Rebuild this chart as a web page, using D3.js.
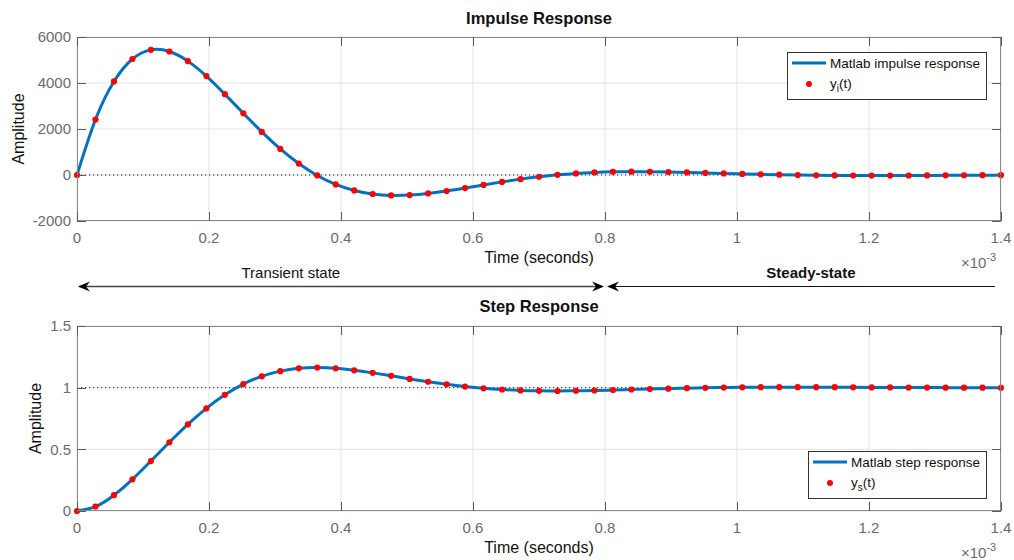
<!DOCTYPE html>
<html>
<head>
<meta charset="utf-8">
<script src="https://cdn.jsdelivr.net/npm/d3@7"></script>
<style>
  html, body { margin: 0; padding: 0; background: #fff; }
  svg { display: block; font-family: "Liberation Sans", Arial, Helvetica, sans-serif; }
</style>
</head>
<body>
<svg id="chart" width="1014" height="560"></svg>
<script>
// Sample instants (milliseconds, axis shows x10^-3 s)
const timeMs = [0, 0.028, 0.056, 0.084, 0.112, 0.14, 0.168, 0.196, 0.224, 0.252,
  0.28, 0.308, 0.336, 0.364, 0.392, 0.42, 0.448, 0.476, 0.504, 0.532,
  0.56, 0.588, 0.616, 0.644, 0.672, 0.7, 0.728, 0.756, 0.784, 0.812,
  0.84, 0.868, 0.896, 0.924, 0.952, 0.98, 1.008, 1.036, 1.064, 1.092,
  1.12, 1.148, 1.176, 1.204, 1.232, 1.26, 1.288, 1.316, 1.344, 1.372, 1.4];

// Impulse response y_i(t)
const impulseVals = [0, 2410, 4068, 5044, 5441, 5370, 4951, 4299, 3514, 2682,
  1872, 1132, 497, -20, -408, -671, -827, -888, -873, -803,
  -696, -567, -431, -299, -180, -77, 7, 69, 111, 136,
  145, 142, 130, 113, 91, 69, 48, 28, 12, -2,
  -12, -18, -22, -24, -23, -21, -18, -15, -11, -8, -4];

// Step response y_s(t)
const stepVals = [0, 0.036, 0.128, 0.257, 0.405, 0.557, 0.702, 0.832, 0.942, 1.029,
  1.092, 1.134, 1.157, 1.163, 1.157, 1.141, 1.120, 1.096, 1.071, 1.048,
  1.027, 1.009, 0.995, 0.985, 0.978, 0.974, 0.973, 0.975, 0.977, 0.981,
  0.985, 0.989, 0.992, 0.996, 0.999, 1.001, 1.003, 1.004, 1.004, 1.004,
  1.004, 1.004, 1.003, 1.002, 1.002, 1.001, 1.001, 1.000, 1.000, 1.000, 0.999];

const xTicks = [0, 0.2, 0.4, 0.6, 0.8, 1, 1.2, 1.4];
const impulseTicks = [-2000, 0, 2000, 4000, 6000];
const stepTicks = [0, 0.5, 1, 1.5];

const svg = d3.select("#chart");
const left = 77, right = 1001;
const x = d3.scaleLinear().domain([0, 1.4]).range([left, right]);

const BLUE = "#0072BD", RED = "#FF0000";
const TICK_GRAY = "#6b6b6b", BOX_GRAY = "#8a8a8a";

function panel(cfg) {
  const y = d3.scaleLinear().domain(cfg.domain).range([cfg.bottom, cfg.top]);
  const g = svg.append("g");
  const pts = timeMs.map((t, i) => ({ t, v: cfg.values[i] }));

  // grid
  g.append("g").selectAll("line").data(xTicks).join("line")
    .attr("x1", d => x(d)).attr("x2", d => x(d))
    .attr("y1", cfg.top).attr("y2", cfg.bottom)
    .attr("stroke", "#e3e3e3").attr("stroke-width", 1);
  g.append("g").selectAll("line").data(cfg.ticks).join("line")
    .attr("x1", left).attr("x2", right)
    .attr("y1", d => y(d)).attr("y2", d => y(d))
    .attr("stroke", "#e3e3e3").attr("stroke-width", 1);

  // reference level
  g.append("line")
    .attr("x1", left).attr("x2", right)
    .attr("y1", y(cfg.refLevel)).attr("y2", y(cfg.refLevel))
    .attr("stroke", "#222").attr("stroke-width", 1)
    .attr("stroke-dasharray", "1.2,2.8");

  // response curve
  const line = d3.line().x(d => x(d.t)).y(d => y(d.v)).curve(d3.curveNatural);
  g.append("path").datum(pts)
    .attr("d", line).attr("fill", "none")
    .attr("stroke", BLUE).attr("stroke-width", 3)
    .attr("stroke-linejoin", "round");

  // sampled points
  g.append("g").selectAll("circle").data(pts).join("circle")
    .attr("cx", d => x(d.t)).attr("cy", d => y(d.v))
    .attr("r", 3.1).attr("fill", RED);

  // axes box
  g.append("rect")
    .attr("x", left + 0.5).attr("y", cfg.top + 0.5)
    .attr("width", right - left - 1).attr("height", cfg.bottom - cfg.top - 1)
    .attr("fill", "none").attr("stroke", BOX_GRAY).attr("stroke-width", 1);

  // inward ticks on all four sides
  const tl = 9;
  const tickG = g.append("g").attr("stroke", "#5a5a5a").attr("stroke-width", 1);
  xTicks.forEach(d => {
    const xx = Math.round(x(d)) + 0.5;
    tickG.append("line").attr("x1", xx).attr("x2", xx).attr("y1", cfg.bottom).attr("y2", cfg.bottom - tl);
    tickG.append("line").attr("x1", xx).attr("x2", xx).attr("y1", cfg.top).attr("y2", cfg.top + tl);
  });
  cfg.ticks.forEach(d => {
    const yy = Math.round(y(d)) + 0.5;
    tickG.append("line").attr("x1", left).attr("x2", left + tl).attr("y1", yy).attr("y2", yy);
    tickG.append("line").attr("x1", right).attr("x2", right - tl).attr("y1", yy).attr("y2", yy);
  });

  // tick labels
  g.append("g").selectAll("text").data(xTicks).join("text")
    .attr("x", d => x(d)).attr("y", cfg.bottom + 22)
    .attr("text-anchor", "middle").attr("font-size", 15).attr("fill", TICK_GRAY)
    .text(d => String(Math.round(d * 10) / 10));
  g.append("g").selectAll("text").data(cfg.ticks).join("text")
    .attr("x", left - 6).attr("y", d => y(d))
    .attr("dy", "0.36em")
    .attr("text-anchor", "end").attr("font-size", 15).attr("fill", TICK_GRAY)
    .text(d => String(d));

  // exponent
  const ex = g.append("text")
    .attr("x", 961).attr("y", cfg.bottom + 47)
    .attr("font-size", 15).attr("fill", TICK_GRAY);
  ex.append("tspan").text("\u00D710");
  ex.append("tspan").attr("font-size", 11).attr("dy", -7).text("-3");

  // axis labels
  g.append("text")
    .attr("x", (left + right) / 2).attr("y", cfg.bottom + 42)
    .attr("text-anchor", "middle").attr("font-size", 16).attr("fill", "#111")
    .text("Time (seconds)");
  g.append("text")
    .attr("transform", `translate(${cfg.ylabelX},${(cfg.top + cfg.bottom) / 2}) rotate(-90)`)
    .attr("text-anchor", "middle").attr("font-size", 16).attr("fill", "#111")
    .text("Amplitude");

  // title
  g.append("text")
    .attr("x", (left + right) / 2).attr("y", cfg.titleY)
    .attr("text-anchor", "middle").attr("font-size", 16.5).attr("font-weight", "bold")
    .attr("fill", "#111").text(cfg.title);

  // legend
  const lg = g.append("g");
  const box = lg.append("rect").attr("fill", "#fff").attr("stroke", "#333").attr("stroke-width", 1);
  const row1 = lg.append("text").attr("font-size", 13.5).attr("fill", "#111").text(cfg.legendLine);
  const row2 = lg.append("text").attr("font-size", 13.5).attr("fill", "#111");
  row2.append("tspan").text("y");
  row2.append("tspan").attr("font-size", 10).attr("dy", 4).text(cfg.sub);
  row2.append("tspan").attr("dy", -4).text("(t)");
  const textW = row1.node().getComputedTextLength();
  const bw = Math.round(43 + textW + 6), bh = 47;
  const bx = right - 15 - bw;
  const by = cfg.legendTop != null ? cfg.legendTop : cfg.bottom - 13 - bh;
  box.attr("x", bx + 0.5).attr("y", by + 0.5).attr("width", bw).attr("height", bh);
  lg.append("line").attr("x1", bx + 5).attr("x2", bx + 39)
    .attr("y1", by + 11).attr("y2", by + 11)
    .attr("stroke", BLUE).attr("stroke-width", 3);
  row1.attr("x", bx + 43).attr("y", by + 16);
  lg.append("circle").attr("cx", bx + 22).attr("cy", by + 32).attr("r", 3).attr("fill", RED);
  row2.attr("x", bx + 43).attr("y", by + 36);
}

panel({
  top: 37, bottom: 221, domain: [-2000, 6000], ticks: impulseTicks,
  values: impulseVals, refLevel: 0, title: "Impulse Response", titleY: 24,
  ylabelX: 24, legendLine: "Matlab impulse response", sub: "i", legendTop: 52
});
panel({
  top: 326, bottom: 511, domain: [0, 1.5], ticks: stepTicks,
  values: stepVals, refLevel: 1, title: "Step Response", titleY: 312,
  ylabelX: 41, legendLine: "Matlab step response", sub: "s", legendTop: null
});

// transient / steady-state annotation between the panels
const arrowY = 286.5;
const head = (tipX, dir) => {
  const L = 12, W = 5, N = 8;
  return `M${tipX},${arrowY} L${tipX - dir * L},${arrowY - W} L${tipX - dir * N},${arrowY} L${tipX - dir * L},${arrowY + W} Z`;
};
const ann = svg.append("g");
ann.append("line").attr("x1", x(0) + 2).attr("x2", x(0.8) - 3)
  .attr("y1", arrowY).attr("y2", arrowY).attr("stroke", "#444").attr("stroke-width", 1.5);
ann.append("path").attr("d", head(x(0) + 1, -1)).attr("fill", "#000");
ann.append("path").attr("d", head(x(0.8) - 1, 1)).attr("fill", "#000");
ann.append("line").attr("x1", x(0.8) + 4).attr("x2", x(1.4) - 6)
  .attr("y1", arrowY).attr("y2", arrowY).attr("stroke", "#111").attr("stroke-width", 1.2);
ann.append("path").attr("d", head(x(0.8) + 2, -1)).attr("fill", "#000");

ann.append("text").attr("x", x(0.324)).attr("y", 278)
  .attr("text-anchor", "middle").attr("font-size", 15).attr("fill", "#111")
  .text("Transient state");
ann.append("text").attr("x", x(1.112)).attr("y", 278)
  .attr("text-anchor", "middle").attr("font-size", 15).attr("font-weight", "bold").attr("fill", "#111")
  .text("Steady-state");
</script>
</body>
</html>
